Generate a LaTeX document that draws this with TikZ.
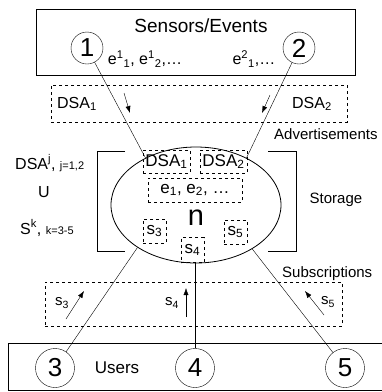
\documentclass[tikz,border=0pt]{standalone}
\usepackage{fontspec}
\setmainfont{Liberation Sans}
\usepackage{tikz}
\usetikzlibrary{shapes.geometric, arrows.meta, positioning}

\newcommand{\fs}[1]{\fontsize{#1}{#1}\selectfont}

\begin{document}
\begin{tikzpicture}[x=1pt, y=-1pt,
    box/.style={rectangle, draw, thick, inner sep=0pt},
    dbox/.style={rectangle, draw, dashed, inner sep=0pt},
    num/.style={circle, draw, inner sep=0pt, minimum size=32pt, font=\fs{26}},
    bignum/.style={num, minimum size=39pt},
    lbl/.style={font=\fs{16}, inner sep=0pt},
    arrow/.style={-{Latex[length=7pt, width=5pt]}},
    link/.style={draw}
]
\useasboundingbox (0,0) rectangle (382,392);
\clip (0,0) rectangle (382,392);

% Sensors
\node[box, minimum width=319pt, minimum height=66pt] (sens) at (195.5,42) {};
\node[lbl, font=\fs{19}] (senstxt) at (201,26) {Sensors/Events};
\node[num] (c1) at (87,48) {1};
\node[num] (c2) at (299,48) {2};
\node[lbl] (ev1) at (145,59) {e\textsuperscript{1}\textsubscript{1}, e\textsuperscript{1}\textsubscript{2},\dots};
\node[lbl] (ev2) at (254,59) {e\textsuperscript{2}\textsubscript{1},\dots};

% Advertisements
\node[dbox, minimum width=296pt, minimum height=37pt] (adv) at (199,103.5) {};
\node[lbl] (dsa1) at (77,104) {DSA\textsubscript{1}};
\node[lbl] (dsa2) at (312,104) {DSA\textsubscript{2}};
\coordinate (a1s) at (124,93);
\coordinate (a1e) at (130,113);
\coordinate (a2s) at (270,95);
\coordinate (a2e) at (262,113);
\draw[arrow] (a1s) -- (a1e);
\draw[arrow] (a2s) -- (a2e);
\node[lbl, font=\fs{15}, anchor=west] (advtxt) at (274,134) {Advertisements};

% Storage
\node[ellipse, draw, thick, minimum width=170pt, minimum height=116pt, inner sep=0pt] (st) at (196,205) {};
\node[dbox, minimum width=47pt, minimum height=23pt, lbl, font=\fs{17}] (in1) at (166.5,161.5) {DSA\textsubscript{1}};
\node[dbox, minimum width=47pt, minimum height=23pt, lbl, font=\fs{17}] (in2) at (223.5,161.5) {DSA\textsubscript{2}};
\node[dbox, minimum width=94pt, minimum height=24pt, lbl, font=\fs{17}] (evs) at (195,190) {e\textsubscript{1}, e\textsubscript{2}, \dots};
\node[lbl, font=\fs{29}] (n) at (196,218) {n};
\node[dbox, minimum width=23pt, minimum height=24pt, lbl, font=\fs{17}] (in3) at (154.5,231) {s\textsubscript{3}};
\node[dbox, minimum width=23pt, minimum height=25pt, lbl, font=\fs{17}] (in4) at (192.5,250) {s\textsubscript{4}};
\node[dbox, minimum width=23pt, minimum height=24pt, lbl, font=\fs{17}] (in5) at (235.5,232) {s\textsubscript{5}};
\node[lbl, font=\fs{15}] (stor) at (336,200) {Storage};

% Brackets
\draw (125,151) -- (97,151) -- (97,251) -- (125,251);
\draw (268,151) -- (296,151) -- (296,251) -- (268,251);
\node[lbl, anchor=west] (setd) at (15,163) {DSA\textsuperscript{j}, {\fs{11}j=1,2}};
\node[lbl] (setu) at (44,192) {U};
\node[lbl, anchor=west] (sets) at (20,228) {S\textsuperscript{k}, {\fs{11}k=3-5}};

% Subscriptions
\node[dbox, minimum width=297pt, minimum height=44pt] (sub) at (193.5,304) {};
\node[lbl, font=\fs{15}] (s3) at (62,303) {s\textsubscript{3}};
\node[lbl, font=\fs{15}] (s4) at (172,303) {s\textsubscript{4}};
\node[lbl, font=\fs{15}] (s5) at (328,302) {s\textsubscript{5}};
\coordinate (b3s) at (66,319);
\coordinate (b3e) at (84,291);
\coordinate (b4s) at (186,317);
\coordinate (b4e) at (186,288);
\coordinate (b5s) at (324,315);
\coordinate (b5e) at (305,291);
\draw[arrow] (b3s) -- (b3e);
\draw[arrow] (b4s) -- (b4e);
\draw[arrow] (b5s) -- (b5e);
\node[lbl, font=\fs{15}, anchor=west] (subtxt) at (282,274) {Subscriptions};

% Users
\node[box, minimum width=390pt, minimum height=47pt, anchor=north west] (users) at (8,343) {};
\node[lbl, font=\fs{17}] (utxt) at (117,368) {Users};
\node[bignum] (c3) at (55,368) {3};
\node[bignum] (c4) at (195,368) {4};
\node[bignum] (c5) at (345,368) {5};

% Links
\draw[link] (c1) -- (st.137);
\draw[link] (c2) -- (st.43);
\draw[link] (c3) -- (st.216);
\draw[link] (c4) -- (c4 |- st.south);
\draw[link] (c5) -- (st.-38);

\end{tikzpicture}
\end{document}
